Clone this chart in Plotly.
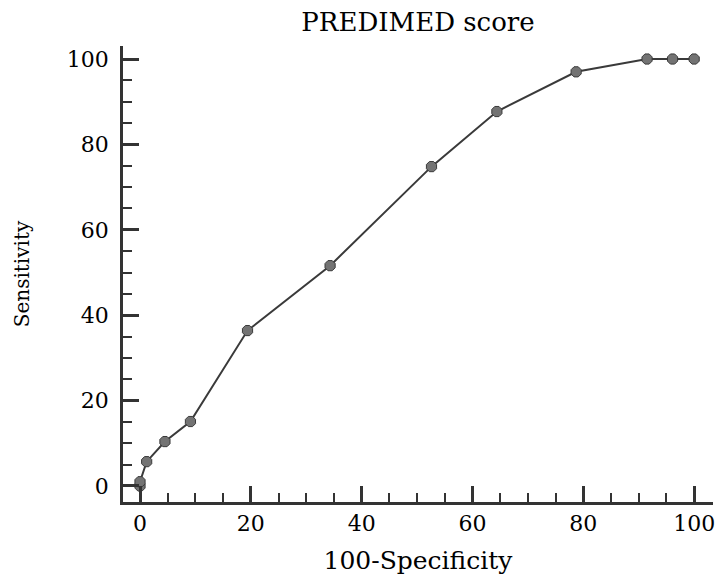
import plotly.graph_objects as go

# ROC curve points (100-Specificity, Sensitivity)
fpr = [0, 0, 1.2, 4.5, 9.1, 19.4, 34.3, 52.6, 64.4, 78.7, 91.5, 96.1, 100]
sens = [0, 1.0, 5.7, 10.4, 15.1, 36.4, 51.6, 74.8, 87.7, 97.0, 100, 100, 100]

title_text = "PREDIMED score"
x_title = "100-Specificity"
y_title = "Sensitivity"
tick_vals = [0, 20, 40, 60, 80, 100]

serif = "DejaVu Serif"

fig = go.Figure()
fig.add_trace(go.Scatter(
    x=fpr, y=sens, mode="lines+markers",
    line=dict(color="#3a3a3a", width=2),
    marker=dict(symbol="octagon", size=11, color="#737373",
                line=dict(color="#3a3a3a", width=1)),
    showlegend=False,
))

axis_common = dict(
    showgrid=False, zeroline=False, showline=True, linecolor="#333333",
    linewidth=2.5, ticks="inside", ticklen=16, tickwidth=2.5, tickcolor="#333333",
    tickvals=tick_vals, automargin=False,
    tickfont=dict(family=serif, size=22, color="black"),
    minor=dict(ticks="inside", ticklen=9, tickwidth=1.5, tickcolor="#333333", dtick=5, showgrid=False),
    mirror=False,
)

fig.update_layout(
    width=719, height=577,
    margin=dict(l=123, r=6, t=46, b=75, pad=0, autoexpand=False),
    paper_bgcolor="white", plot_bgcolor="white",
    title=dict(text=title_text, x=0.5, xref="paper", y=1 - 22 / 577, yanchor="middle",
               font=dict(family=serif, size=26, color="black")),
    xaxis=dict(range=[-3.07, 103.4], ticklabelstandoff=0,
               title=dict(text=x_title, font=dict(family=serif, size=25, color="black"), standoff=17),
               **axis_common),
    yaxis=dict(range=[-3.75, 103.05], ticklabelstandoff=7,
               title=dict(text=y_title, font=dict(family=serif, size=20, color="black"), standoff=32),
               **axis_common),
)

fig.write_html("out.html", config={"displayModeBar": False},
               post_script="document.body.style.margin='0';document.body.style.overflow='hidden';")
